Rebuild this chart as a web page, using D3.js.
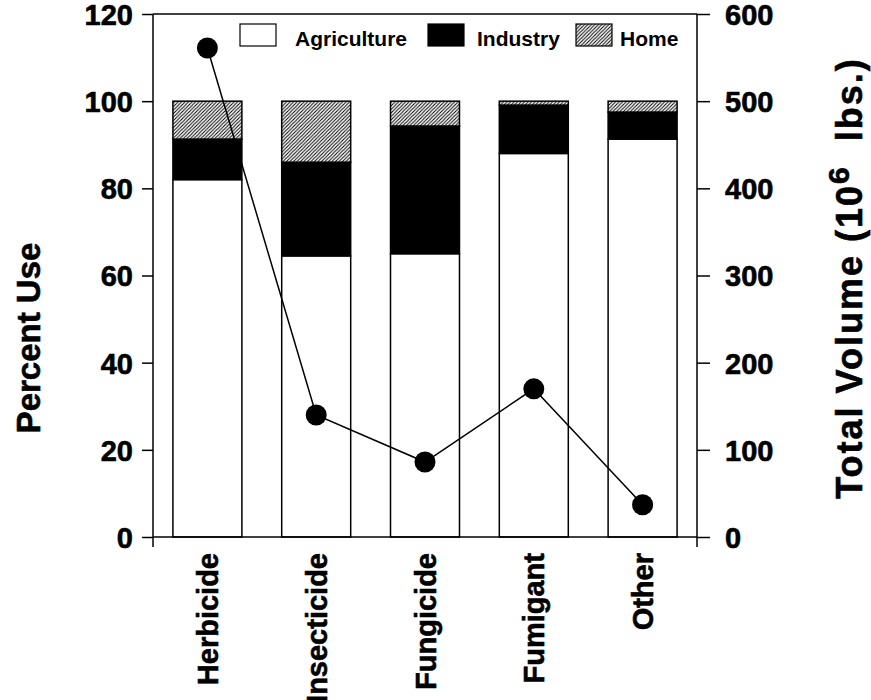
<!DOCTYPE html>
<html><head><meta charset="utf-8">
<script src="https://cdn.jsdelivr.net/npm/d3@7"></script>
<style>
body{margin:0;background:#fff;}
text{font-family:"Liberation Sans",Arial,sans-serif;font-weight:bold;fill:#000;}
.heavy{stroke:#000;stroke-width:0.6px;}
</style></head>
<body><svg id="c" width="871" height="700"></svg>
<script>
const categories = ["Herbicide","Insecticide","Fungicide","Fumigant","Other"];
const agriculture = [82, 64.5, 65, 88, 91.3];
const industry = [9.3, 21.5, 29.3, 11.1, 6.2];
const home = [8.7, 14, 5.7, 0.9, 2.5];
const volume = [561, 140, 86, 170, 37];
const leftTicks = [0,20,40,60,80,100,120];
const rightTicks = [0,100,200,300,400,500,600];
const seriesNames = ["Agriculture","Industry","Home"];

const svg = d3.select("#c");
const L=153, R=697, T=14, B=537;
const x = d3.scaleBand().domain(categories).range([L,R]).paddingInner(0.366).paddingOuter(0.183);
const y = d3.scaleLinear().domain([0,120]).range([B,T]);
const y2 = d3.scaleLinear().domain([0,600]).range([B,T]);

const defs = svg.append("defs");
const pat = defs.append("pattern").attr("id","hatch").attr("patternUnits","userSpaceOnUse")
  .attr("width",3.5).attr("height",3.5);
pat.append("rect").attr("width",3.5).attr("height",3.5).attr("fill","#fff");
pat.append("path").attr("d","M-1,1 l2,-2 M0,3.5 l3.5,-3.5 M2.5,4.5 l2,-2").attr("stroke","#000").attr("stroke-width",1);

const fills = ["#fff","#000","url(#hatch)"];
const rows = categories.map((c,i)=>({cat:c, Agriculture:agriculture[i], Industry:industry[i], Home:home[i]}));
const stacked = d3.stack().keys(seriesNames)(rows);

stacked.forEach((s,si)=>{
  svg.append("g").selectAll("rect").data(s).join("rect")
    .attr("x",d=>x(d.data.cat)).attr("width",x.bandwidth())
    .attr("y",d=>y(d[1])).attr("height",d=>y(d[0])-y(d[1]))
    .attr("fill",fills[si]).attr("stroke","#000").attr("stroke-width",1.5);
});

// axes
const gl = svg.append("g").attr("transform",`translate(${L},0)`)
  .call(d3.axisLeft(y).tickValues(leftTicks).tickSize(11).tickSizeOuter(0).tickPadding(9));
const gr = svg.append("g").attr("transform",`translate(${R},0)`)
  .call(d3.axisRight(y2).tickValues(rightTicks).tickSize(13).tickSizeOuter(0).tickPadding(15));
[gl,gr].forEach(g=>{
  g.select(".domain").remove();
  g.selectAll("line").attr("stroke","#000").attr("stroke-width",1.5);
  g.selectAll("text").attr("class","heavy").style("font-size","29px").style("font-family","Liberation Sans, Arial, sans-serif").style("font-weight","bold").attr("dy","0.36em");
});
svg.append("line").attr("x1",L).attr("x2",L).attr("y1",T).attr("y2",B+10).attr("stroke","#000").attr("stroke-width",1.5);
svg.append("line").attr("x1",R).attr("x2",R).attr("y1",T).attr("y2",B+10).attr("stroke","#000").attr("stroke-width",1.5);
svg.append("line").attr("x1",L).attr("x2",R).attr("y1",T).attr("y2",T).attr("stroke","#000").attr("stroke-width",1.5);
svg.append("line").attr("x1",L).attr("x2",R).attr("y1",B).attr("y2",B).attr("stroke","#000").attr("stroke-width",1.5);

// category labels
svg.append("g").selectAll("text").data(categories).join("text")
  .attr("class","heavy")
  .attr("transform",d=>`translate(${x(d)+x.bandwidth()/2+10.5},553) rotate(-90)`)
  .attr("text-anchor","end").style("font-size","29px").text(d=>d);

// line + markers
const pts = categories.map((c,i)=>[x(c)+x.bandwidth()/2, y2(volume[i])]);
svg.append("path").attr("d",d3.line()(pts)).attr("fill","none").attr("stroke","#000").attr("stroke-width",1.5);
svg.append("g").selectAll("circle").data(pts).join("circle")
  .attr("cx",d=>d[0]).attr("cy",d=>d[1]).attr("r",10.5).attr("fill","#000");

// legend
const leg = [{n:"Agriculture",bx:240,tx:295},{n:"Industry",bx:428,tx:477},{n:"Home",bx:576,tx:620}];
leg.forEach((l,i)=>{
  svg.append("rect").attr("x",l.bx).attr("y",24).attr("width",36).attr("height",22)
    .attr("fill",fills[i]).attr("stroke","#000").attr("stroke-width",1.2);
  svg.append("text").attr("x",l.tx).attr("y",46).style("font-size","21px").text(l.n);
});

// axis titles
svg.append("text").attr("class","heavy").attr("transform","translate(40,338) rotate(-90)").attr("text-anchor","middle")
  .style("font-size","33px").text("Percent Use");
const rt = svg.append("text").attr("class","heavy").attr("transform","translate(862,278) rotate(-90)").attr("text-anchor","middle")
  .style("font-size","36px").style("letter-spacing","2px");
rt.append("tspan").text("Total Volume (10");
rt.append("tspan").attr("dy",-13).style("font-size","30px").text("6");
rt.append("tspan").attr("dy",13).text("\u00a0 lbs.)");
</script></body></html>
